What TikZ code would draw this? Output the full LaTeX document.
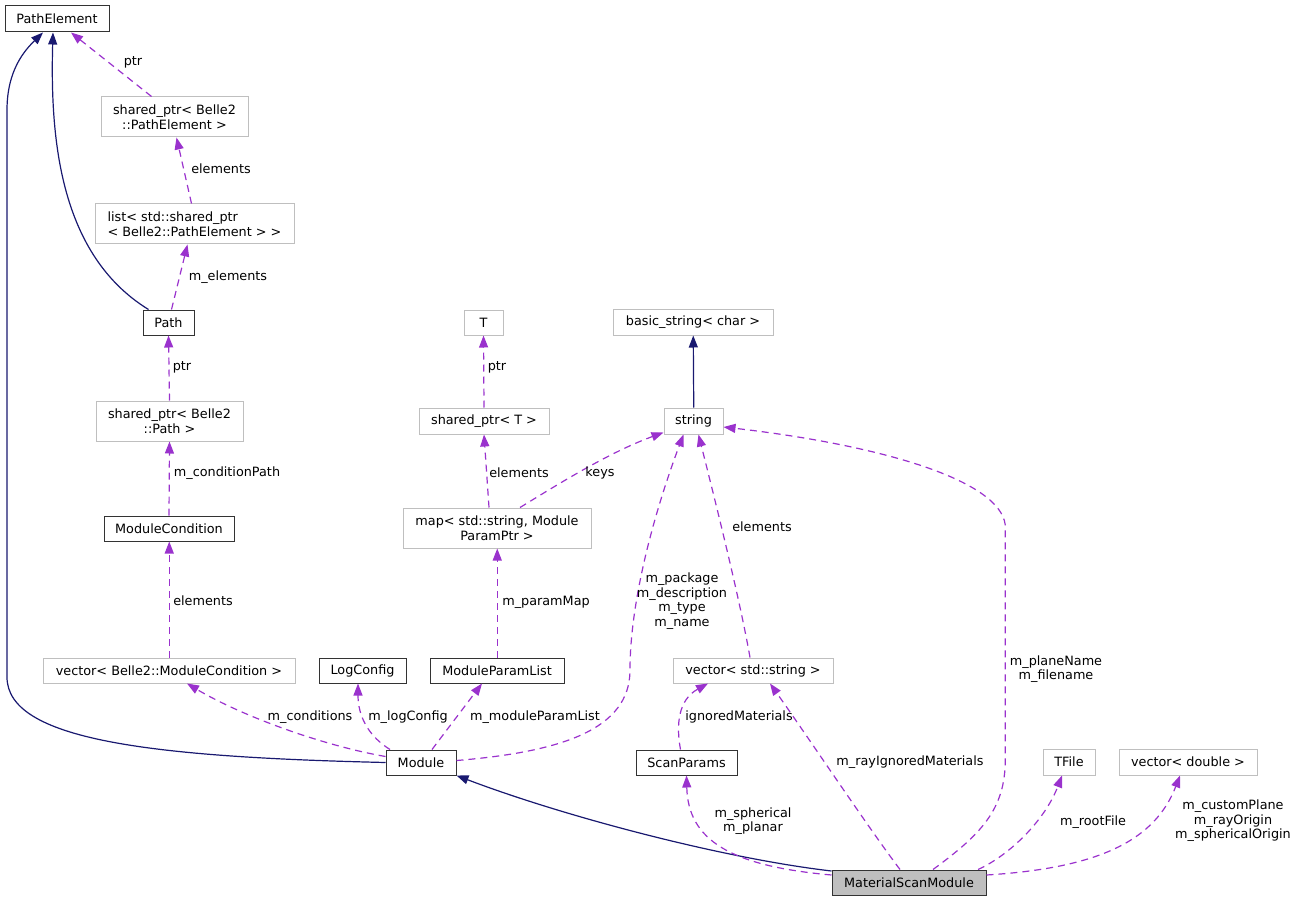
\documentclass[tikz,border=0pt]{standalone}
\usepackage{fontspec}
\setmainfont{DejaVu Sans}
\usetikzlibrary{arrows.meta}
\definecolor{navy}{HTML}{191970}
\definecolor{purp}{HTML}{9A32CD}
\definecolor{extgray}{HTML}{BFBFBF}
\definecolor{selgray}{HTML}{BFBFBF}
\tikzset{
  txt/.style={font=\fontsize{12.8}{14.6}\selectfont, inner sep=0pt},
  cls/.style={txt, draw=black!80, line width=1pt, fill=white, minimum height=25},
  extcls/.style={txt, draw=extgray, line width=1pt, fill=white, minimum height=25},
  selcls/.style={txt, draw=black!80, line width=1pt, fill=selgray, minimum height=25},
  lbl/.style={txt, align=center},
  inh/.style={draw=navy, line width=1.2pt, -{Triangle[length=12pt,width=9pt]}},
  usage/.style={draw=purp, line width=1.2pt, dash pattern=on 7pt off 5pt, -{Triangle[length=12pt,width=9pt]}},
}
\begin{document}
\begin{tikzpicture}[x=1pt,y=-1pt]
\useasboundingbox (0,0) rectangle (1297,901);
% nodes
\node[cls, minimum width=104, minimum height=26] (PE) at (57,19) {PathElement};
\node[extcls, minimum width=147, minimum height=40, align=center] (spPE) at (174.5,117) {shared\_ptr< Belle2\\::PathElement >};
\node[extcls, minimum width=199, minimum height=40, align=left] (list) at (194.5,224) {list< std::shared\_ptr\\< Belle2::PathElement > >};
\node[cls, minimum width=51] (Path) at (168.5,322.5) {Path};
\node[extcls, minimum width=147, minimum height=40, align=center] (spPath) at (169.5,421) {shared\_ptr< Belle2\\::Path >};
\node[cls, minimum width=130] (MC) at (169,528.5) {ModuleCondition};
\node[extcls, minimum width=252] (vecMC) at (169,670.5) {vector< Belle2::ModuleCondition >};
\node[cls, minimum width=87] (LC) at (362.5,670.5) {LogConfig};
\node[cls, minimum width=134] (MPL) at (497,670.5) {ModuleParamList};
\node[cls, minimum width=70] (Module) at (421,762.5) {Module};
\node[extcls, minimum width=39] (T) at (483.5,322.5) {T};
\node[extcls, minimum width=130, minimum height=26] (spT) at (484,421) {shared\_ptr< T >};
\node[extcls, minimum width=188, minimum height=40, align=center] (map) at (497,528) {map< std::string, Module\\ParamPtr >};
\node[extcls, minimum width=160, minimum height=26] (bs) at (693,322) {basic\_string< char >};
\node[extcls, minimum width=59, minimum height=26] (string) at (693.5,421) {string};
\node[extcls, minimum width=160] (vecStr) at (753,670.5) {vector< std::string >};
\node[cls, minimum width=101] (SP) at (686.5,762.5) {ScanParams};
\node[extcls, minimum width=52, minimum height=26] (TFile) at (1069,762) {TFile};
\node[extcls, minimum width=138, minimum height=26] (vecD) at (1188,762) {vector< double >};
\node[selcls, minimum width=154] (MSM) at (909,882.5) {MaterialScanModule};
% inheritance
\draw[inh] (Module.west) .. controls (150,757) and (7,740) .. (7,677) -- (7,110) .. controls (7,70) and (25,50) .. ([xshift=-14]PE.south);
\draw[inh] ([xshift=-20]Path.north) .. controls (60,255) and (50,140) .. ([xshift=-4]PE.south);
\draw[inh] ([xshift=0.25]string.north) -- ([xshift=0.25]bs.south);
\draw[inh] ([yshift=11.5]MSM.west) .. controls (720,858) and (560,815) .. (Module.south east);
% usage
\draw[usage] ([xshift=-23]spPE.north) -- ([xshift=14]PE.south);
\draw[usage] ([xshift=-3]list.north) -- ([xshift=2]spPE.south);
\draw[usage] ([xshift=3]Path.north) -- ([xshift=-7]list.south);
\draw[usage] (spPath.north) -- (Path.south);
\draw[usage] (MC.north) -- (spPath.south);
\draw[usage] ([xshift=0.25]vecMC.north) -- ([xshift=0.25]MC.south);
\draw[usage] ([yshift=6]Module.west) .. controls (320,745) and (240,715) .. ([xshift=18]vecMC.south);
\draw[usage] ([xshift=-31]Module.north) .. controls (362,732) and (358,708) .. ([xshift=-4.5]LC.south);
\draw[usage] ([xshift=11]Module.north) -- ([xshift=-15]MPL.south);
\draw[usage] ([xshift=0.25]MPL.north) -- ([xshift=0.25]map.south);
\draw[usage] ([xshift=-8]map.north) -- (spT.south);
\draw[usage] (spT.north) -- (T.south);
\draw[usage] ([xshift=23]map.north) .. controls (560,483) and (610,452) .. ([yshift=2]string.south west);
\draw[usage] ([yshift=2]Module.east) .. controls (560,752) and (630,730) .. (630,670) .. controls (630,600) and (655,510) .. ([xshift=-10]string.south);
\draw[usage] ([xshift=-3]vecStr.north) .. controls (740,600) and (715,500) .. ([xshift=5]string.south);
\draw[usage] ([xshift=24]MSM.north) .. controls (980,835) and (1005.25,810) .. (1005.25,760) -- (1005.25,525) .. controls (1000,480) and (880,445) .. ([yshift=-6]string.east);
\draw[usage] ([xshift=-9]MSM.north) .. controls (870,830) and (810,740) .. ([xshift=17]vecStr.south);
\draw[usage] ([xshift=-6]SP.north) .. controls (676,725) and (678,700) .. ([xshift=-45]vecStr.south);
\draw[usage] ([yshift=7.5]MSM.west) .. controls (730,866) and (688,840) .. (SP.south);
\draw[usage] ([xshift=69]MSM.north) .. controls (1010,855) and (1045,820) .. ([xshift=-7]TFile.south);
\draw[usage] ([yshift=7.5]MSM.east) .. controls (1100,868) and (1155,840) .. ([xshift=-8]vecD.south);
% labels
\node[lbl] (l1) at (133,62) {ptr};
\node[lbl] (l2) at (221,169) {elements};
\node[lbl] (l3) at (228,277) {m\_elements};
\node[lbl] (l4) at (182,367) {ptr};
\node[lbl] (l5) at (227,473) {m\_conditionPath};
\node[lbl] (l6) at (203,601) {elements};
\node[lbl] (l7) at (310,717) {m\_conditions};
\node[lbl] (l8) at (408,717) {m\_logConfig};
\node[lbl] (l9) at (535,717) {m\_moduleParamList};
\node[lbl] (l10) at (546,602) {m\_paramMap};
\node[lbl] (l11) at (519,473) {elements};
\node[lbl] (l12) at (497,367) {ptr};
\node[lbl] (l13) at (600,473) {keys};
\node[lbl] (l14) at (682,601) {m\_package\\m\_description\\m\_type\\m\_name};
\node[lbl] (l15) at (762,527) {elements};
\node[lbl] (l16) at (1056,669) {m\_planeName\\m\_filename};
\node[lbl] (l17) at (910,762) {m\_rayIgnoredMaterials};
\node[lbl] (l18) at (739,717) {ignoredMaterials};
\node[lbl] (l19) at (753,821) {m\_spherical\\m\_planar};
\node[lbl] (l20) at (1093,822) {m\_rootFile};
\node[lbl] (l21) at (1233,821) {m\_customPlane\\m\_rayOrigin\\m\_sphericalOrigin};
\end{tikzpicture}
\end{document}
